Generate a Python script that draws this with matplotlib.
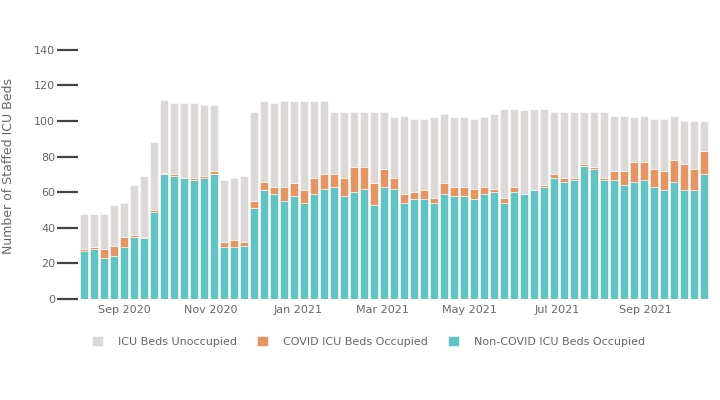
import matplotlib
matplotlib.use('Agg')
import matplotlib.pyplot as plt
import matplotlib.dates as mdates
import pandas as pd

# weekly data, first week starting early Aug 2020
weeks = pd.date_range('2020-08-04', periods=63, freq='7D')

non_covid = [27, 28, 23, 24, 29, 35, 34, 49, 70, 69, 68, 67, 68, 70, 29, 29, 30,
             51, 61, 59, 55, 58, 54, 59, 62, 63, 58, 60, 62, 53, 63, 62, 54, 56,
             56, 54, 59, 58, 58, 56, 59, 60, 54, 60, 59, 61, 63, 68, 66, 67, 75,
             73, 67, 67, 64, 66, 67, 63, 61, 66, 61, 61, 70]
covid = [1, 1, 5, 6, 6, 1, 1, 1, 1, 1, 0, 1, 1, 2, 3, 4, 2,
         4, 5, 4, 8, 7, 7, 9, 8, 7, 10, 14, 12, 12, 10, 6, 5, 4,
         5, 3, 6, 5, 5, 6, 4, 2, 3, 3, 0, 0, 1, 2, 2, 1, 1,
         1, 1, 5, 8, 11, 10, 10, 11, 12, 15, 12, 13]
unoccupied = [20, 19, 20, 23, 19, 28, 34, 38, 41, 40, 42, 42, 40, 37, 35, 35, 37,
              50, 45, 47, 48, 46, 50, 43, 41, 35, 37, 31, 31, 40, 32, 34, 44, 41,
              40, 45, 39, 39, 39, 39, 39, 42, 50, 44, 47, 46, 43, 35, 37, 37, 29,
              31, 37, 31, 31, 25, 26, 28, 29, 25, 24, 27, 17]

labels = ['ICU Beds Unoccupied', 'COVID ICU Beds Occupied', 'Non-COVID ICU Beds Occupied']
c_gray = '#ddd8d8'
c_orange = '#e79461'
c_teal = '#5fc5c2'
txt = '#666666'

plt.rcParams['font.family'] = ['DejaVu Sans']

fig = plt.figure(figsize=(7.2, 4.0), dpi=100)
ax = fig.add_axes([78 / 720, 101 / 400, 634 / 720, 267 / 400])

w = 5.5
bottom2 = [a + b for a, b in zip(non_covid, covid)]
b_teal = ax.bar(weeks, non_covid, width=w, color=c_teal, edgecolor='white', linewidth=0.4)
b_orange = ax.bar(weeks, covid, width=w, bottom=non_covid, color=c_orange, edgecolor='white', linewidth=0.4)
b_gray = ax.bar(weeks, unoccupied, width=w, bottom=bottom2, color=c_gray, edgecolor='white', linewidth=0.4)

ax.set_xlim(weeks[0] - pd.Timedelta(days=4.2), weeks[-1] + pd.Timedelta(days=5.6))
ax.set_ylim(0, 150)
ax.set_yticks(range(0, 141, 20))

for s in ax.spines.values():
    s.set_visible(False)

ax.xaxis.set_major_locator(mdates.MonthLocator(bymonth=[1, 3, 5, 7, 9, 11]))
ax.xaxis.set_major_formatter(mdates.DateFormatter('%b %Y'))
ax.tick_params(axis='x', length=0, pad=4, labelsize=8, labelcolor=txt)
ax.tick_params(axis='y', length=15, width=1.6, color='#444444', pad=1.5, labelsize=8, labelcolor=txt)

ax.set_ylabel('Number of Staffed ICU Beds', fontsize=9, color=txt)
ax.yaxis.set_label_coords(-0.100, 0.5)

fig.legend([b_gray, b_orange, b_teal], labels, loc='center left',
           bbox_to_anchor=(86 / 720, 1 - 341.5 / 400), ncol=3, frameon=False,
           fontsize=8, labelcolor=txt, handlelength=1.05, handleheight=1.05,
           handletextpad=1.35, columnspacing=1.75, borderpad=0)

fig.savefig('out.png', dpi=100)
